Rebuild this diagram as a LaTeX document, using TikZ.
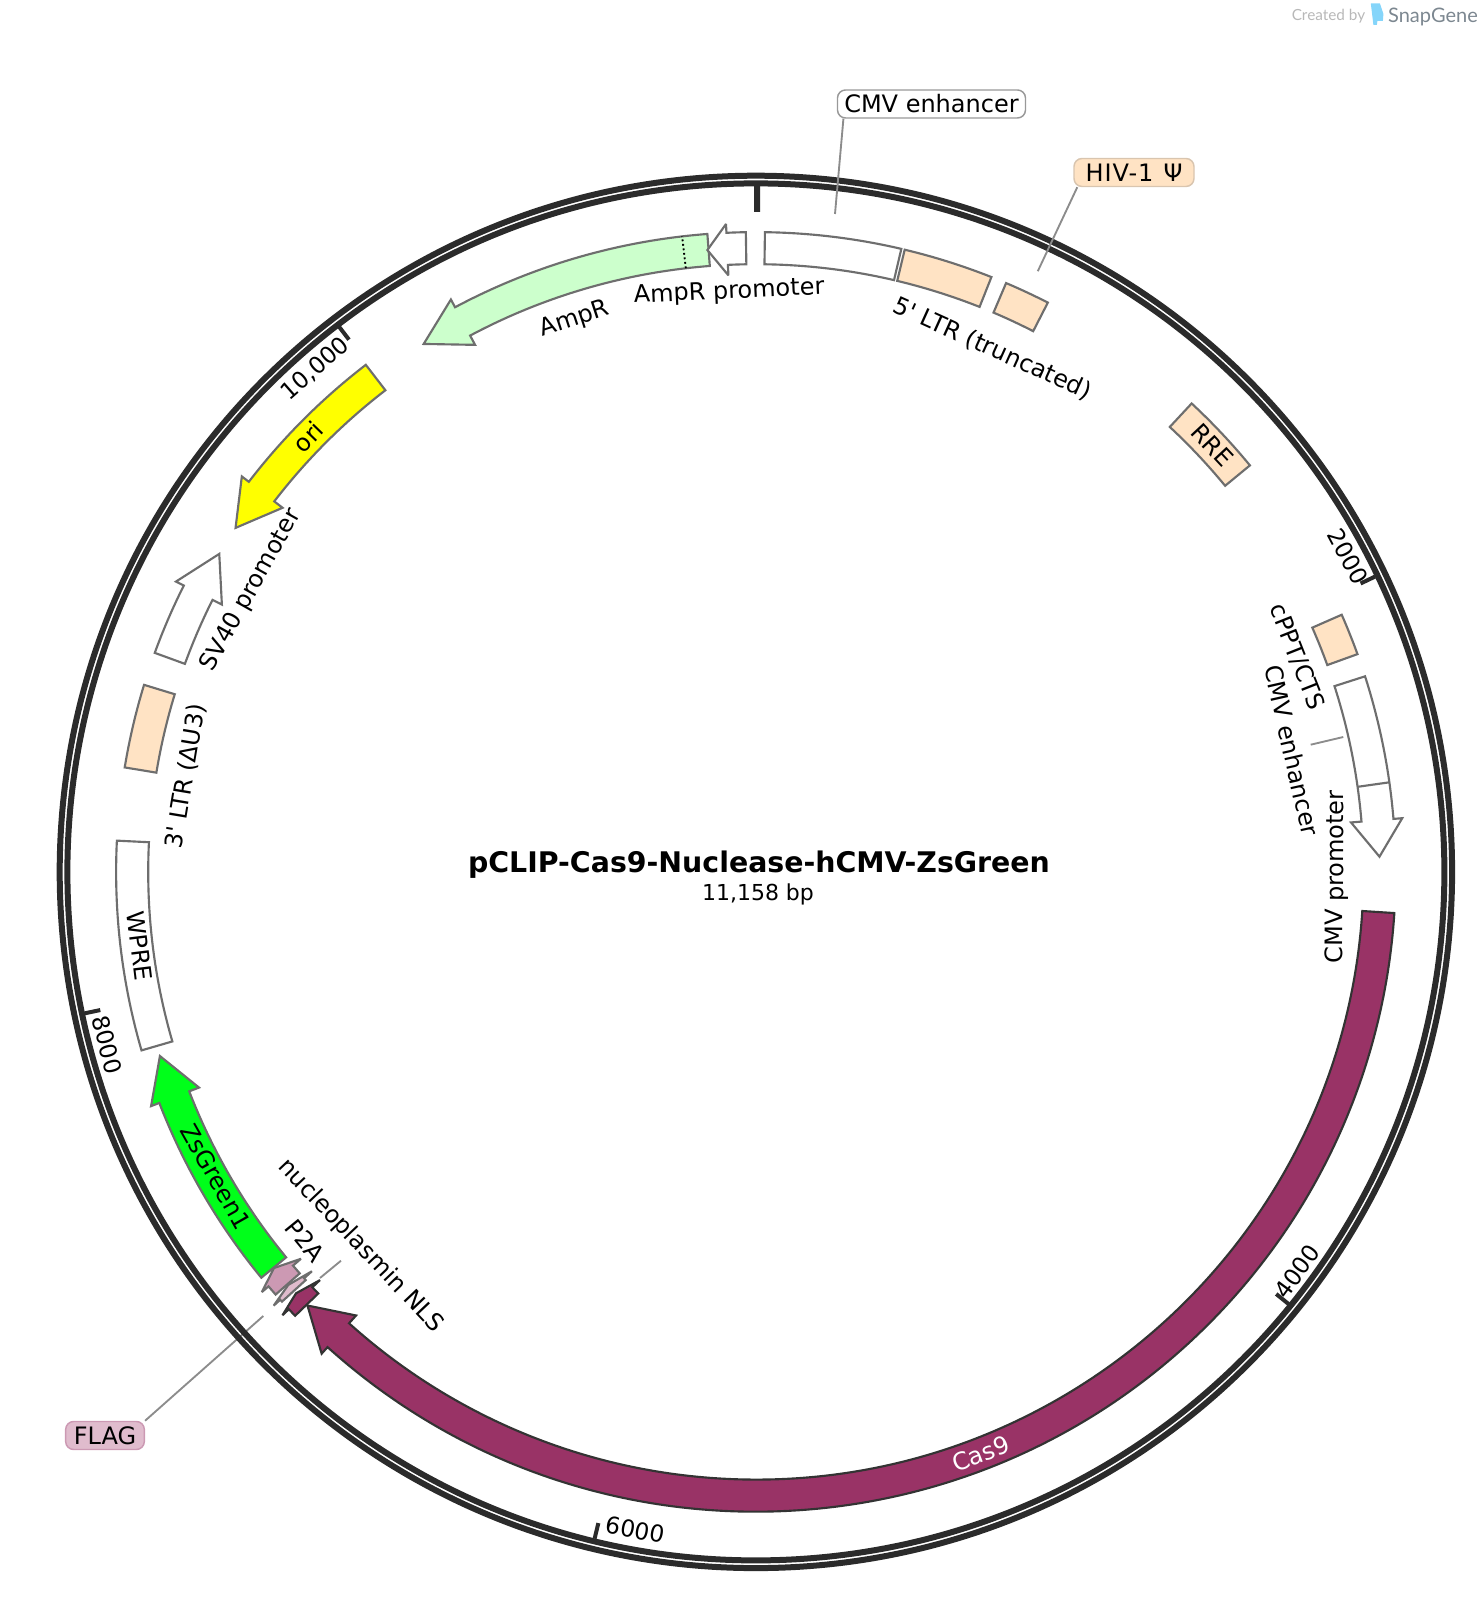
\documentclass[tikz,border=0pt]{standalone}
\usepackage{fontspec}
\setmainfont{DejaVu Sans}
\newfontfamily\labfont{DejaVu Sans}
\newfontfamily\logofont{Lato}
\newcommand{\rin}{607.7}
\newcommand{\rout}{639.8}
\newcommand{\headin}{597.2}
\newcommand{\headout}{648.6}
\newcommand{\rmid}{623.8}
% plain segment: style, start, end (clockwise from the top)
\newcommand{\featbox}[3]{
    \draw[#1] ({90-#2}:\rin) arc[start angle=90-#2, end angle=90-#3, radius=\rin]
        -- ({90-#3}:\rout) arc[start angle=90-#3, end angle=90-#2, radius=\rout] -- cycle;
}
% arrow segment: style, tail, head base, tip
\newcommand{\featarrow}[4]{
    \draw[#1] ({90-#2}:\rin) arc[start angle=90-#2, end angle=90-#3, radius=\rin]
        -- ({90-#3}:\headin) -- ({90-#4}:\rmid) -- ({90-#3}:\headout)
        -- ({90-#3}:\rout) arc[start angle=90-#3, end angle=90-#2, radius=\rout] -- cycle;
}
\definecolor{ringcol}{HTML}{2B2B2B}
\definecolor{grayline}{HTML}{6E6E6E}
\definecolor{darkline}{HTML}{333333}
\definecolor{peach}{HTML}{FFE3C4}
\definecolor{mint}{HTML}{CCFFCC}
\definecolor{casred}{HTML}{993366}
\definecolor{ptwoa}{HTML}{CC99B3}
\definecolor{flagpink}{HTML}{E0BCCD}
\definecolor{zsgreen}{HTML}{00FF1A}
\definecolor{orifill}{HTML}{FFFF00}
\definecolor{logoblue}{HTML}{85D5FA}
\definecolor{logogray}{HTML}{7C8790}
\begin{document}
\begin{tikzpicture}[x=0.75pt, y=0.75pt,
        feat/.style = {draw=grayline, line width=1.6pt, line join=miter, miter limit=3, fill=white},
        darkfeat/.style = {feat, draw=darkline},
        flab/.style = {font=\labfont\fontsize{18}{22}\selectfont, inner sep=0pt},
        ticklab/.style = {font=\labfont\fontsize{17.5}{21}\selectfont, inner sep=0pt},
        leader/.style = {draw=gray!90, line width=1.4pt},
        tag/.style = {shape=rectangle, rounded corners=6pt, font=\labfont\fontsize{18}{22}\selectfont,
            minimum height=21pt, inner xsep=5pt, inner ysep=0pt, line width=1.1pt}]
    \useasboundingbox (-755.9,-728.1) rectangle (728.1,871.9);

    % logo
    \node (createdby) at (572.6,855.9) [font=\logofont\fontsize{11.5}{14}\selectfont, text=black!28, inner sep=0pt] {Created by};
    \fill[logoblue] (614.9,868.5) -- (624,868.5) -- (627.5,858) -- (627,851) -- (621.5,851) -- (621,847) -- (617.5,847) -- cycle;
    \node (snapgene) at (677.1,855.4) [font=\logofont\fontsize{15}{18}\selectfont, text=logogray, inner sep=0pt] {SnapGene};

    % leader lines, under the ring
    \node (flagtag) at (-650.9,-563.6) [tag, draw=ptwoa, fill=flagpink, minimum width=59pt] {FLAG};
    \coordinate (flagend) at (-492.6,-444.1);
    \draw[leader] (flagtag.north east) -- (flagend);

    % backbone
    \draw[ringcol, line width=4.5pt] (0,0) circle (696.2);
    \draw[ringcol, line width=4.5pt] (0,0) circle (688.5);

    % ticks
    \draw[ringcol, line width=4.5pt] (89.9:686) -- (89.9:660);
    \foreach \pos in {64.5,129.05,193.6,258.1,322.6}
        \draw[ringcol, line width=3pt] ({90-\pos}:686) -- ({90-\pos}:670);
    \node (tick2k) at (28.04:671.2) [ticklab, rotate=-61.8] {2000};
    \node (tick4k) at (-36.45:672.8) [ticklab, rotate=53.6] {4000};
    \node (tick6k) at (-100.38:669) [ticklab, rotate=-10.5] {6000};
    \node (tick8k) at (-165.1:671.4) [ticklab, rotate=-75] {8000};
    \node (tick10k) at (131.22:669) [ticklab, rotate=41.2] {10,000};

    % features, clockwise from the top
    \featbox{feat}{0.81}{13.14}
    \featbox{feat, fill=peach}{13.45}{21.6}
    \featbox{feat, fill=peach}{23.02}{27.15}
    \featbox{feat, fill=peach}{42.93}{50.55}
    \featbox{feat, fill=peach}{66.3}{70.1}
    \featarrow{feat}{72.2}{85.25}{88.6}
    \draw[grayline, line width=1.6pt] (90-81.95:\rin) -- (90-81.95:\rout);
    \featarrow{darkfeat, fill=casred}{93.69}{222.03}{225.96}
    \featarrow{darkfeat, fill=casred}{226.07}{226.88}{227.5}
    \featarrow{feat, fill=flagpink}{227.8}{228.03}{228.55}
    \featarrow{feat, fill=ptwoa}{228.65}{229.62}{230.58}
    \featarrow{feat, fill=zsgreen}{230.63}{248.83}{252.83}
    \featbox{feat}{253.8}{272.8}
    \featbox{feat, fill=peach}{279.4}{287}
    \featarrow{feat}{290.02}{296.59}{300.65}
    \featarrow{feat, fill=orifill}{322.43}{307.57}{303.47}
    \featarrow{feat, fill=mint}{-4.35}{-28.05}{-32.18}
    \draw[black, line width=1.4pt, dotted] (90+6.62:\rin) -- (90+6.62:\rout);
    \featarrow{feat}{-0.9}{-2.64}{-4.46}

    % labels
    \node (amprprom) at (92.65:580.35) [flab, rotate=2.6] {AmpR promoter};
    \node (ampr) at (108.15:581.5) [flab, rotate=18.2] {AmpR};
    \node (ltrfive) at (65.63:574) [flab, rotate=-24.3] {5' LTR (truncated)};
    \node (rre) at (43.1:625) [flab, rotate=-47] {RRE};
    \node (cppt) at (21.67:582.3) [flab, rotate=-68.4] {cPPT/CTS};
    \node (cmvenh) at (12.77:549.7) [flab, rotate=-77.3] {CMV enhancer};
    \node (cmvprom) at (-0.5:581) [flab, rotate=89.5] {CMV promoter};
    \node (cas) at (-68.86:623.7) [flab, text=white, rotate=21] {Cas9};
    \node (nls) at (-136.55:544.4) [flab, rotate=-46.6] {nucleoplasmin NLS};
    \node (ptwoalab) at (-140.73:582) [flab, rotate=-50.8] {P2A};
    \node (zslab) at (-150.55:620) [flab, rotate=-60.6] {ZsGreen1};
    \node (wpre) at (-173.15:621) [flab, rotate=-83] {WPRE};
    \node (ltrthree) at (170.5:578) [flab, rotate=80.5] {3' LTR (ΔU3)};
    \node (sv) at (150.84:578) [flab, rotate=60.8] {SV40 promoter};
    \node (ori) at (135.8:624.3) [flab, rotate=45.8] {ori};

    % callouts
    \node (cmvtag) at (175.6,767.9) [tag, draw=gray!80, fill=white, minimum width=141pt] {CMV enhancer};
    \node (hivtag) at (378.1,699.4) [tag, draw=peach!70!gray, fill=peach, minimum width=90pt] {{\addfontfeature{LetterSpace=4}HIV-1}\hspace{7.5pt}Ψ};
    \coordinate (cmvend) at (79.1,657.9);
    \coordinate (hivend) at (281.9,600.7);
    \coordinate (nlsend) at (-435.9,-406.1);
    \coordinate (nlsstart) at (-414.9,-388.8);
    \coordinate (cmvinner) at (554.8,127.2);
    \coordinate (cmvfeat) at (587.4,134.9);
    \draw[leader] ([xshift=5pt]cmvtag.south west) -- (cmvend);
    \draw[leader] ([xshift=3pt]hivtag.south west) -- (hivend);
    \draw[leader] (nlsend) -- (nlsstart);
    \draw[leader] (cmvinner) -- (cmvfeat);

    % title
    \node (title) at (3.1,6.9) [font=\labfont\bfseries\fontsize{21.3}{26}\selectfont, inner sep=0pt] {pCLIP-Cas9-Nuclease-hCMV-ZsGreen};
    \node (bp) at (2.1,-22.1) [font=\labfont\fontsize{16.5}{20}\selectfont, inner sep=0pt] {11,158 bp};
\end{tikzpicture}
\end{document}
